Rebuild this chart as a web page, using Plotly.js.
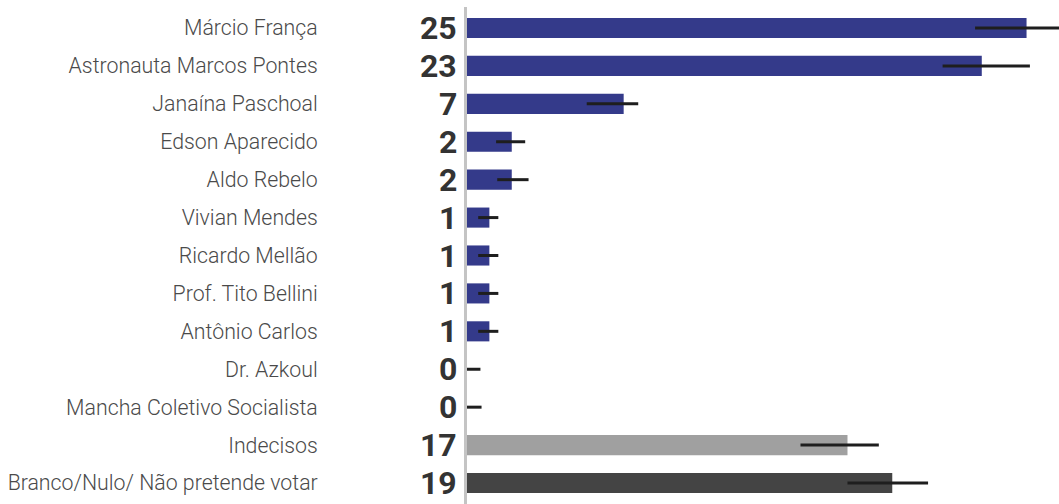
<!DOCTYPE html>
<html>
<head>
<meta charset="utf-8">
<script src="https://cdn.plot.ly/plotly-3.0.1.min.js"></script>
<style>html,body{margin:0;padding:0;background:#fff;}#chart{width:1059px;height:504px;}</style>
</head>
<body>
<div id="chart"></div>
<script>
var categories = ["Márcio França","Astronauta Marcos Pontes","Janaína Paschoal","Edson Aparecido","Aldo Rebelo","Vivian Mendes","Ricardo Mellão","Prof. Tito Bellini","Antônio Carlos","Dr. Azkoul","Mancha Coletivo Socialista","Indecisos","Branco/Nulo/ Não pretende votar"];
var values = [25, 23, 7, 2, 2, 1, 1, 1, 1, 0, 0, 17, 19];
var errLow = [22.7, 21.25, 5.35, 1.3, 1.35, 0.5, 0.5, 0.5, 0.5, 0, 0, 14.9, 17.0];
var errHigh = [27.0, 25.15, 7.65, 2.6, 2.75, 1.4, 1.4, 1.4, 1.4, 0.6, 0.65, 18.4, 20.6];
var barColors = ["#343a8a","#343a8a","#343a8a","#343a8a","#343a8a","#343a8a","#343a8a","#343a8a","#343a8a","#343a8a","#343a8a","#a0a0a0","#444444"];

var plus = values.map(function(v,i){return errHigh[i]-v;});
var minus = values.map(function(v,i){return v-errLow[i];});

var trace = {
  type: 'bar',
  orientation: 'h',
  x: values,
  y: categories,
  marker: {color: barColors, line: {width: 0}},
  error_x: {type: 'data', symmetric: false, array: plus, arrayminus: minus, width: 0, thickness: 3, color: '#1e1e1e'},
  hoverinfo: 'none'
};

var annotations = categories.map(function(c,i){
  return {x: 0, y: c, xref: 'x', yref: 'y', text: String(values[i]), showarrow: false,
    xanchor: 'right', yanchor: 'middle', xshift: -8, yshift: 0,
    font: {family: 'Roboto', size: 32, color: '#333333', weight: 700}};
});

var layout = {
  width: 1059, height: 504,
  margin: {l: 467, r: 0, t: 7, b: 0, pad: 0},
  paper_bgcolor: '#ffffff', plot_bgcolor: '#ffffff',
  bargap: 0.47,
  showlegend: false,
  xaxis: {range: [0, 26.45], showgrid: false, zeroline: false, showticklabels: false, showline: false, ticks: ''},
  yaxis: {type: 'category', autorange: 'reversed', showgrid: false, zeroline: false,
    showline: true, linecolor: '#c4c4c4', linewidth: 3, ticks: '',
    ticklabelstandoff: 142,
    tickfont: {family: 'Roboto', size: 21.3, color: '#4a4a4a', weight: 300}},
  annotations: annotations
};

Plotly.newPlot('chart', [trace], layout, {displayModeBar: false, staticPlot: true});
</script>
</body>
</html>
